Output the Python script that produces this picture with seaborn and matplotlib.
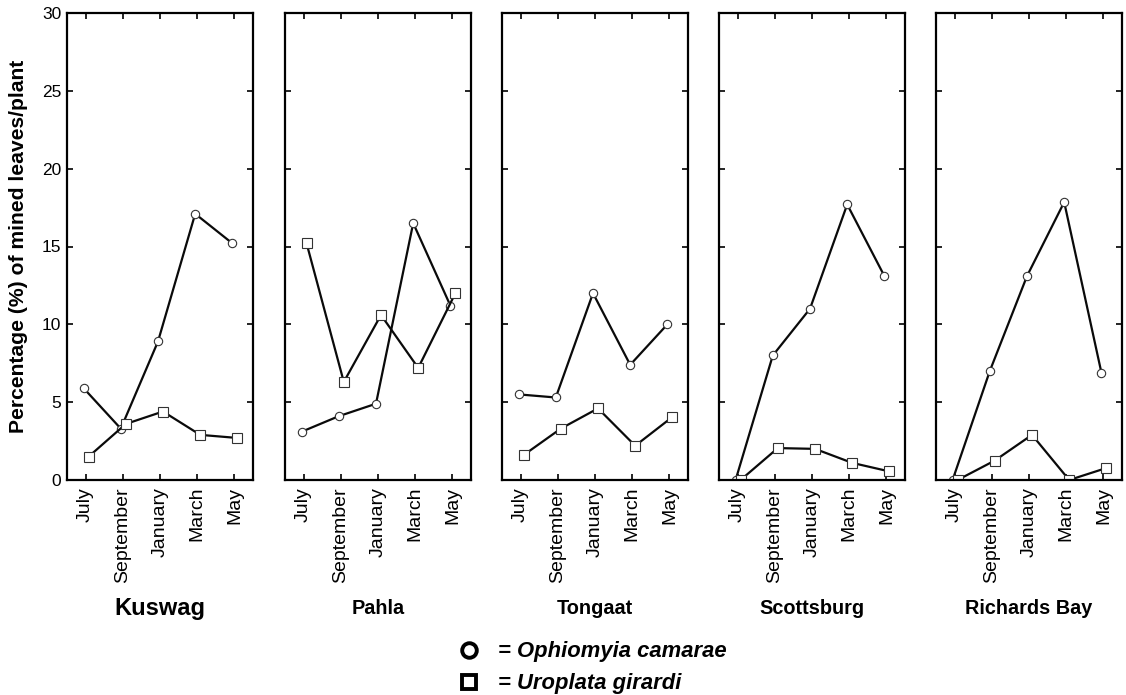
import numpy as np
import pandas as pd
import seaborn as sns
import matplotlib
matplotlib.use("Agg")
import matplotlib.pyplot as plt
from matplotlib.transforms import ScaledTranslation
from matplotlib.lines import Line2D

sns.set_theme(style="white")
plt.rcParams['font.family'] = ['Liberation Sans', 'DejaVu Sans']
plt.rcParams['text.color'] = 'black'
plt.rcParams['axes.labelcolor'] = 'black'
plt.rcParams['xtick.color'] = 'black'
plt.rcParams['ytick.color'] = 'black'

months = ["July", "September", "January", "March", "May"]
sites = ["Kuswag", "Pahla", "Tongaat", "Scottsburg", "Richards Bay"]

ophiomyia = {
    "Kuswag":       [5.9, 3.3, 8.9, 17.1, 15.2],
    "Pahla":        [3.1, 4.1, 4.9, 16.5, 11.2],
    "Tongaat":      [5.5, 5.3, 12.0, 7.4, 10.0],
    "Scottsburg":   [0.0, 8.0, 11.0, 17.7, 13.1],
    "Richards Bay": [0.0, 7.0, 13.1, 17.85, 6.9],
}
uroplata = {
    "Kuswag":       [1.5, 3.6, 4.4, 2.9, 2.7],
    "Pahla":        [15.2, 6.3, 10.6, 7.2, 12.0],
    "Tongaat":      [1.6, 3.3, 4.6, 2.2, 4.05],
    "Scottsburg":   [0.0, 2.05, 2.0, 1.1, 0.55],
    "Richards Bay": [0.0, 1.25, 2.9, 0.0, 0.77],
}

species = ["Ophiomyia camarae", "Uroplata girardi"]
markers = {"Ophiomyia camarae": "o", "Uroplata girardi": "s"}
msizes = {"Ophiomyia camarae": 6.0, "Uroplata girardi": 6.5}
offsets_px = {"Ophiomyia camarae": -2.0, "Uroplata girardi": 3.0}

rows = []
for s in sites:
    for i, m in enumerate(months):
        rows.append({"site": s, "month_idx": i, "species": species[0], "value": ophiomyia[s][i]})
        rows.append({"site": s, "month_idx": i, "species": species[1], "value": uroplata[s][i]})
df = pd.DataFrame(rows)

W, H = 1126, 695
fig = plt.figure(figsize=(W / 100, H / 100), dpi=100)
lefts = [67, 285, 502, 719, 936]
pw = 186
top_px, bot_px = 13, 480

for k, site in enumerate(sites):
    ax = fig.add_axes([lefts[k] / W, 1 - bot_px / H, pw / W, (bot_px - top_px) / H])
    sub = df[df.site == site]
    for sp in species:
        d = sub[sub.species == sp]
        n_before = len(ax.lines)
        sns.lineplot(data=d, x="month_idx", y="value", ax=ax, color="#0a0a0a",
                     linewidth=1.6, marker=markers[sp], markersize=msizes[sp],
                     markerfacecolor="white", markeredgecolor="#333333",
                     markeredgewidth=0.8, legend=False, errorbar=None)
        for ln in ax.lines[n_before:]:
            ln.set_transform(ax.transData + ScaledTranslation(offsets_px[sp] / 100, 0, fig.dpi_scale_trans))
    ax.set_xlim(-0.5, 4.5)
    ax.set_ylim(0, 30)
    ax.set_xticks(range(len(months)))
    ax.set_xticklabels(months, rotation=90, fontsize=14)
    ax.set_yticks([0, 5, 10, 15, 20, 25, 30])
    ax.set_xlabel("")
    ax.set_ylabel("")
    ax.tick_params(axis="both", direction="in", length=4, width=1.2, color="black",
                   top=True, right=True, bottom=True, left=True, pad=5)
    ax.tick_params(axis="y", labelsize=12.5, pad=4)
    if k > 0:
        ax.set_yticklabels([])
    for sp_ in ax.spines.values():
        sp_.set_color("black")
        sp_.set_linewidth(1.6)
        sp_.set_visible(True)
    if k == 0:
        ax.set_ylabel("Percentage (%) of mined leaves/plant", fontsize=15.2,
                      fontweight="bold", labelpad=10)
    fs = 17 if k == 0 else 14.3
    ax.text(0.5, -0.275, site, transform=ax.transAxes, ha="center", va="center",
            fontsize=fs, fontweight="bold")

handles = [Line2D([], [], linestyle="none", marker="o", markersize=10.5,
                  markerfacecolor="white", markeredgecolor="black", markeredgewidth=2.8),
           Line2D([], [], linestyle="none", marker="s", markersize=10.5,
                  markerfacecolor="white", markeredgecolor="black", markeredgewidth=2.8)]
leg = fig.legend(handles, ["= " + s for s in species], loc="upper left",
                 bbox_to_anchor=(443 / W, 1 - 626 / H), frameon=False,
                 handlelength=1.0, handletextpad=0.8, labelspacing=0.5,
                 borderpad=0.2,
                 prop={"size": 15.8, "weight": "bold", "style": "italic"})

fig.savefig("out.png", dpi=100, facecolor="white")
